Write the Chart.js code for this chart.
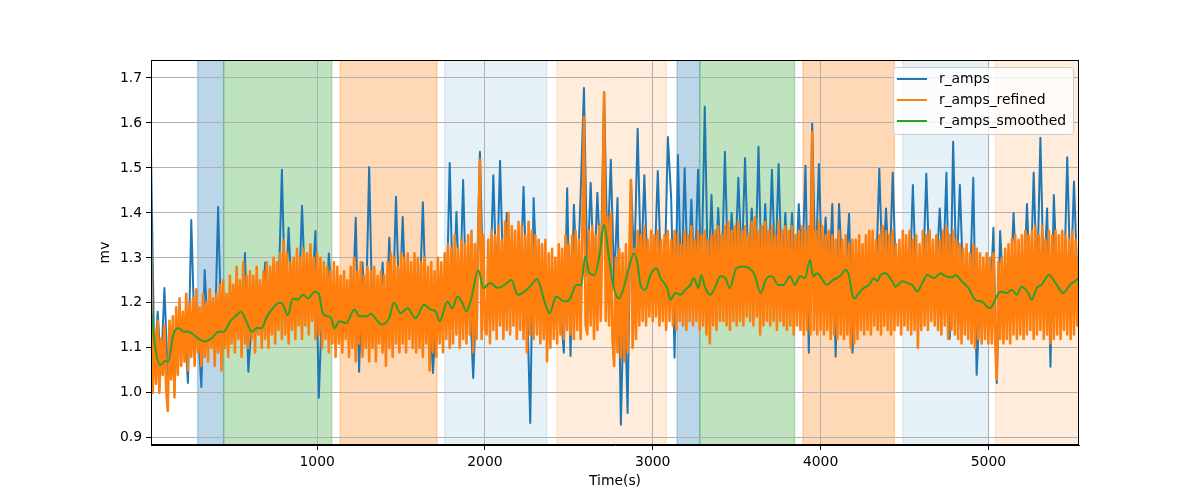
<!DOCTYPE html>
<html>
<head>
<meta charset="utf-8">
<script src="https://cdn.jsdelivr.net/npm/chart.js@4"></script>
<style>
  html, body { margin: 0; padding: 0; background: #fff; }
  #chart { display: block; }
</style>
</head>
<body>
<canvas id="chart" width="1200" height="500"></canvas>
<script>
// r_amps read every 20 s, r_amps_refined every 10 s, both from 10 s
const ampsStart = 10;
const ampsStep = 20;
const refinedStart = 10;
const refinedStep = 10;

const rAmps = [
  1.536, 1.06, 1.18, 1.05, 1.233, 1.04, 1.10, 1.08, 1.14, 1.11,
  1.15, 1.022, 1.384, 1.12, 1.15, 1.013, 1.273, 1.12, 1.15, 1.11,
  1.413, 1.12, 1.16, 1.13, 1.17, 1.15, 1.18, 1.14, 1.311, 1.047,
  1.16, 1.13, 1.17, 1.15, 1.29, 1.16, 1.20, 1.18, 1.22, 1.496,
  1.19, 1.367, 1.20, 1.22, 1.19, 1.416, 1.21, 1.19, 1.23, 1.36,
  0.989, 1.20, 1.17, 1.31, 1.18, 1.15, 1.17, 1.14, 1.17, 1.15,
  1.17, 1.389, 1.047, 1.29, 1.16, 1.502, 1.15, 1.18, 1.16, 1.29,
  1.15, 1.345, 1.17, 1.436, 1.18, 1.391, 1.17, 1.19, 1.16, 1.18,
  1.19, 1.424, 1.17, 1.20, 1.044, 1.18, 1.16, 1.19, 1.17, 1.511,
  1.19, 1.402, 1.20, 1.473, 1.18, 1.21, 1.033, 1.22, 1.536, 1.23,
  1.24, 1.22, 1.484, 1.23, 1.516, 1.24, 1.40, 1.25, 1.22, 1.24,
  1.23, 1.458, 1.22, 0.933, 1.433, 1.24, 1.22, 1.20, 1.21, 1.18,
  1.20, 1.22, 1.19, 1.089, 1.455, 1.082, 1.418, 1.23, 1.438, 1.678,
  1.26, 1.467, 1.25, 1.445, 1.27, 1.669, 1.30, 1.518, 1.24, 1.433,
  0.929, 1.25, 0.955, 1.473, 1.28, 1.587, 1.26, 1.484, 1.24, 1.26,
  1.27, 1.493, 1.25, 1.24, 1.569, 1.43, 1.078, 1.529, 1.22, 1.50,
  1.23, 1.43, 1.24, 1.496, 1.25, 1.636, 1.23, 1.44, 1.22, 1.411,
  1.24, 1.536, 1.25, 1.40, 1.27, 1.478, 1.28, 1.522, 1.27, 1.41,
  1.25, 1.547, 1.23, 1.42, 1.25, 1.496, 1.26, 1.509, 1.24, 1.40,
  1.25, 1.40, 1.24, 1.42, 1.26, 1.505, 1.089, 1.598, 1.26, 1.509,
  1.25, 1.39, 1.24, 1.42, 1.08, 1.42, 1.26, 1.27, 1.398, 1.089,
  1.22, 1.23, 1.24, 1.25, 1.24, 1.26, 1.25, 1.498, 1.26, 1.41,
  1.25, 1.49, 1.24, 1.25, 1.24, 1.23, 1.22, 1.462, 1.23, 1.25,
  1.25, 1.487, 1.26, 1.25, 1.27, 1.41, 1.26, 1.49, 1.12, 1.558,
  1.25, 1.462, 1.24, 1.22, 1.23, 1.478, 1.04, 1.21, 1.20, 1.19,
  1.19, 1.367, 1.022, 1.36, 1.22, 1.23, 1.22, 1.40, 1.23, 1.22,
  1.23, 1.42, 1.22, 1.49, 1.23, 1.567, 1.24, 1.41, 1.058, 1.44,
  1.24, 1.23, 1.22, 1.524, 1.23, 1.47, 1.25
];

const rAmpsRefined = [
  1.333, 1.00, 1.14, 1.02, 1.16, 1.00, 1.12, 1.04, 1.15, 1.01,
  0.96, 1.16, 1.03, 1.17, 0.99, 1.19, 1.04, 1.21, 1.06, 1.18,
  1.07, 1.22, 1.05, 1.20, 1.08, 1.21, 1.06, 1.23, 1.09, 1.19,
  1.06, 1.22, 1.08, 1.20, 1.07, 1.23, 1.10, 1.21, 1.06, 1.22,
  1.09, 1.24, 1.05, 1.25, 1.10, 1.22, 1.08, 1.26, 1.11, 1.24,
  1.09, 1.28, 1.12, 1.25, 1.08, 1.29, 1.11, 1.26, 1.10, 1.27,
  1.12, 1.26, 1.09, 1.28, 1.13, 1.25, 1.10, 1.27, 1.12, 1.29,
  1.10, 1.28, 1.13, 1.30, 1.11, 1.29, 1.14, 1.31, 1.12, 1.34,
  1.13, 1.31, 1.11, 1.29, 1.14, 1.30, 1.12, 1.32, 1.15, 1.30,
  1.12, 1.32, 1.15, 1.31, 1.13, 1.33, 1.16, 1.30, 1.12, 1.31,
  1.13, 1.30, 1.10, 1.29, 1.12, 1.28, 1.09, 1.27, 1.11, 1.29,
  1.08, 1.28, 1.11, 1.26, 1.09, 1.27, 1.12, 1.25, 1.08, 1.28,
  1.10, 1.30, 1.07, 1.27, 1.11, 1.29, 1.08, 1.26, 1.10, 1.28,
  1.07, 1.27, 1.10, 1.28, 1.07, 1.26, 1.11, 1.27, 1.09, 1.26,
  1.06, 1.29, 1.10, 1.31, 1.08, 1.30, 1.11, 1.28, 1.09, 1.31,
  1.11, 1.30, 1.09, 1.31, 1.12, 1.29, 1.10, 1.31, 1.09, 1.30,
  1.10, 1.29, 1.08, 1.30, 1.11, 1.28, 1.05, 1.29, 1.09, 1.27,
  1.08, 1.30, 1.11, 1.29, 1.09, 1.31, 1.12, 1.33, 1.10, 1.32,
  1.11, 1.35, 1.13, 1.32, 1.10, 1.34, 1.12, 1.33, 1.11, 1.35,
  1.13, 1.36, 1.09, 1.33, 1.12, 1.34, 1.518, 1.12, 1.35, 1.14,
  1.13, 1.34, 1.11, 1.36, 1.14, 1.35, 1.12, 1.37, 1.15, 1.34,
  1.12, 1.38, 1.14, 1.40, 1.13, 1.37, 1.15, 1.36, 1.12, 1.38,
  1.14, 1.37, 1.12, 1.35, 1.09, 1.38, 1.13, 1.36, 1.12, 1.35,
  1.13, 1.34, 1.11, 1.33, 1.12, 1.34, 1.07, 1.31, 1.10, 1.32,
  1.12, 1.30, 1.11, 1.33, 1.13, 1.32, 1.12, 1.35, 1.14, 1.33,
  1.13, 1.35, 1.12, 1.36, 1.14, 1.34, 1.12, 1.35, 1.613, 1.15,
  1.13, 1.36, 1.15, 1.37, 1.12, 1.35, 1.14, 1.37, 1.16, 1.38,
  1.669, 1.16, 1.39, 1.15, 1.40, 1.12, 1.06, 1.30, 1.09, 1.32,
  1.08, 1.31, 1.07, 1.33, 1.09, 1.30, 1.473, 1.10, 1.32, 1.12,
  1.36, 1.15, 1.35, 1.16, 1.37, 1.15, 1.34, 1.17, 1.36, 1.16,
  1.35, 1.17, 1.36, 1.15, 1.34, 1.16, 1.35, 1.14, 1.36, 1.16,
  1.34, 1.15, 1.36, 1.14, 1.35, 1.16, 1.33, 1.15, 1.36, 1.14,
  1.35, 1.16, 1.37, 1.15, 1.34, 1.16, 1.36, 1.14, 1.35, 1.15,
  1.36, 1.13, 1.34, 1.11, 1.35, 1.15, 1.36, 1.14, 1.37, 1.16,
  1.35, 1.16, 1.37, 1.15, 1.38, 1.14, 1.36, 1.16, 1.37, 1.15,
  1.38, 1.16, 1.36, 1.15, 1.37, 1.17, 1.35, 1.16, 1.38, 1.15,
  1.39, 1.17, 1.36, 1.13, 1.37, 1.15, 1.38, 1.16, 1.36, 1.15,
  1.37, 1.16, 1.35, 1.14, 1.38, 1.16, 1.36, 1.15, 1.37, 1.14,
  1.36, 1.15, 1.37, 1.13, 1.35, 1.15, 1.36, 1.14, 1.37, 1.13,
  1.36, 1.14, 1.37, 1.13, 1.58, 1.14, 1.36, 1.13, 1.38, 1.14,
  1.37, 1.13, 1.35, 1.14, 1.36, 1.12, 1.35, 1.13, 1.34, 1.12,
  1.36, 1.13, 1.34, 1.12, 1.35, 1.13, 1.33, 1.10, 1.34, 1.11,
  1.34, 1.12, 1.35, 1.14, 1.33, 1.13, 1.35, 1.14, 1.36, 1.13,
  1.36, 1.15, 1.34, 1.14, 1.35, 1.13, 1.37, 1.15, 1.36, 1.14,
  1.35, 1.13, 1.36, 1.14, 1.33, 1.15, 1.34, 1.13, 1.36, 1.15,
  1.35, 1.14, 1.36, 1.13, 1.34, 1.14, 1.35, 1.10, 1.33, 1.14,
  1.36, 1.15, 1.35, 1.14, 1.36, 1.16, 1.34, 1.15, 1.35, 1.14,
  1.34, 1.13, 1.36, 1.15, 1.37, 1.12, 1.35, 1.14, 1.36, 1.13,
  1.34, 1.12, 1.33, 1.11, 1.32, 1.13, 1.33, 1.12, 1.31, 1.11,
  1.33, 1.10, 1.32, 1.12, 1.31, 1.11, 1.30, 1.12, 1.31, 1.11,
  1.30, 1.11, 1.31, 1.12, 1.03, 1.29, 1.12, 1.30, 1.11, 1.32,
  1.12, 1.33, 1.11, 1.34, 1.13, 1.35, 1.12, 1.34, 1.13, 1.35,
  1.12, 1.36, 1.13, 1.35, 1.14, 1.36, 1.12, 1.37, 1.13, 1.35,
  1.14, 1.37, 1.12, 1.34, 1.13, 1.36, 1.11, 1.35, 1.12, 1.36,
  1.13, 1.35, 1.12, 1.36, 1.14, 1.35, 1.13, 1.34, 1.12, 1.36,
  1.13, 1.34, 1.15, 1.30
];

const smoothTimes = [
  10, 36, 65, 95, 113, 143, 173, 204, 234, 264, 294, 333, 373, 413, 443, 482, 522, 546, 578, 611, 641, 671, 696,
  736, 776, 796, 825, 855, 885, 915, 946, 985, 1010, 1034, 1064, 1084, 1103, 1133, 1173, 1222, 1252, 1292, 1321, 1361, 1387,
  1429, 1458, 1498, 1538, 1587, 1637, 1677, 1706, 1730, 1776, 1806, 1835, 1865, 1889, 1917, 1960, 1992, 2032, 2077,
  2117, 2157, 2196, 2236, 2276, 2310, 2355, 2385, 2425, 2474, 2504, 2544, 2574, 2597, 2623, 2653, 2683, 2709, 2742, 2768,
  2798, 2827, 2857, 2887, 2907, 2927, 2956, 2986, 3022, 3046, 3086, 3105, 3135, 3165, 3194, 3224, 3244, 3274, 3288, 3313, 3343, 3373, 3403, 3433, 3459,
  3498, 3538, 3577, 3607, 3643, 3679, 3709, 3748, 3778, 3818, 3848, 3877, 3907, 3937, 3956, 3980, 4006, 4036, 4075, 4115, 4149,
  4169, 4189, 4204, 4228, 4258, 4288, 4318, 4338, 4357, 4387, 4427, 4447, 4487, 4517, 4546, 4576, 4606, 4636, 4676, 4716, 4745, 4785, 4805, 4841,
  4881, 4921, 4960, 5010, 5040, 5069, 5109, 5139, 5169, 5198, 5238, 5258, 5288, 5317, 5361, 5407, 5446, 5486, 5525, 5536
];
const smoothValues = [
  1.19, 1.099, 1.062, 1.07, 1.07, 1.129, 1.144, 1.136, 1.136, 1.129, 1.12, 1.114, 1.122, 1.136, 1.136, 1.159, 1.173, 1.181, 1.159, 1.136, 1.144, 1.144, 1.166,
  1.188, 1.2, 1.196, 1.173, 1.21, 1.207, 1.218, 1.21, 1.225, 1.22, 1.177, 1.17, 1.166, 1.144, 1.159, 1.155, 1.185, 1.17, 1.17, 1.175, 1.159, 1.152,
  1.166, 1.2, 1.177, 1.188, 1.166, 1.196, 1.185, 1.181, 1.159, 1.203, 1.188, 1.214, 1.2, 1.181, 1.207, 1.273, 1.233, 1.244, 1.233,
  1.24, 1.251, 1.218, 1.225, 1.24, 1.253, 1.203, 1.177, 1.214, 1.203, 1.207, 1.24, 1.24, 1.303, 1.266, 1.262, 1.307, 1.373, 1.292, 1.233,
  1.21, 1.233, 1.277, 1.31, 1.292, 1.24, 1.229, 1.262, 1.277, 1.255, 1.233, 1.207, 1.222, 1.218, 1.229, 1.24, 1.255, 1.233, 1.262, 1.233, 1.218, 1.236, 1.259, 1.255, 1.233,
  1.277, 1.281, 1.277, 1.262, 1.222, 1.255, 1.259, 1.24, 1.24, 1.259, 1.24, 1.259, 1.255, 1.296, 1.259, 1.266, 1.255, 1.24, 1.251, 1.259, 1.273,
  1.262, 1.218, 1.21, 1.222, 1.233, 1.24, 1.255, 1.248, 1.262, 1.266, 1.248, 1.236, 1.248, 1.244, 1.24, 1.225, 1.244, 1.262, 1.255, 1.266, 1.259, 1.257, 1.262, 1.248,
  1.233, 1.207, 1.203, 1.188, 1.207, 1.225, 1.222, 1.229, 1.218, 1.236, 1.222, 1.207, 1.233, 1.24, 1.262, 1.24, 1.222, 1.24, 1.251, 1.255
];

// shaded recording phases (seconds)
const spanStart = [288, 443, 1137, 1760, 2429, 3145, 3280, 3895, 4490, 5042];
const spanEnd = [443, 1087, 1714, 2369, 3081, 3280, 3845, 4440, 5002, 5600];
const spanColor = [
  'rgba(31,119,180,0.3)', 'rgba(44,160,44,0.3)', 'rgba(255,127,14,0.3)', 'rgba(31,119,180,0.11)', 'rgba(255,127,14,0.15)',
  'rgba(31,119,180,0.3)', 'rgba(44,160,44,0.3)', 'rgba(255,127,14,0.3)', 'rgba(31,119,180,0.11)', 'rgba(255,127,14,0.15)'
];

const xTicks = [1000, 2000, 3000, 4000, 5000];
const yTicks = [0.9, 1.0, 1.1, 1.2, 1.3, 1.4, 1.5, 1.6, 1.7];

const sampled = (vals, start, step) => vals.map((v, i) => ({x: start + i * step, y: v}));

const spanPlugin = {
  id: 'spans',
  beforeDraw(chart) {
    const {ctx, chartArea, scales} = chart;
    ctx.save();
    ctx.beginPath();
    ctx.rect(chartArea.left, chartArea.top, chartArea.width, chartArea.height);
    ctx.clip();
    for (let i = 0; i < spanStart.length; i++) {
      const x0 = scales.x.getPixelForValue(spanStart[i]);
      const x1 = scales.x.getPixelForValue(spanEnd[i]);
      ctx.fillStyle = spanColor[i];
      ctx.fillRect(x0, chartArea.top, x1 - x0, chartArea.height);
      ctx.strokeStyle = spanColor[i];
      ctx.lineWidth = 1.4;
      ctx.strokeRect(x0, chartArea.top - 2, x1 - x0, chartArea.height + 4);
    }
    ctx.restore();
  }
};

const framePlugin = {
  id: 'frame',
  afterDraw(chart) {
    const {ctx, chartArea} = chart;
    ctx.save();
    ctx.strokeStyle = '#000';
    ctx.lineWidth = 1;
    ctx.strokeRect(chartArea.left + 0.5, chartArea.top + 0.5, chartArea.width - 1, chartArea.height - 1);

    // legend, upper right
    ctx.font = '13.9px "DejaVu Sans"';
    const sets = chart.data.datasets;
    let textW = 0;
    sets.forEach(d => { textW = Math.max(textW, ctx.measureText(d.label).width); });
    const w = 4 + 30 + 12 + textW + 7;
    const h = 67;
    const x0 = chartArea.right - 6 - w;
    const y0 = chartArea.top + 7;
    ctx.beginPath();
    ctx.roundRect(x0 + 0.5, y0 + 0.5, w, h, 3);
    ctx.fillStyle = 'rgba(255,255,255,0.8)';
    ctx.fill();
    ctx.strokeStyle = '#cccccc';
    ctx.stroke();
    sets.forEach((d, i) => {
      const y = y0 + 12 + i * 21;
      ctx.beginPath();
      ctx.moveTo(x0 + 4, y);
      ctx.lineTo(x0 + 34, y);
      ctx.strokeStyle = d.borderColor;
      ctx.lineWidth = 2;
      ctx.stroke();
      ctx.fillStyle = '#000';
      ctx.textBaseline = 'middle';
      ctx.fillText(d.label, x0 + 46, y);
    });
    ctx.restore();
  }
};

Chart.defaults.font.family = '"DejaVu Sans"';
Chart.defaults.font.size = 13.9;
Chart.defaults.color = '#000';

const chart = new Chart(document.getElementById('chart'), {
  type: 'line',
  data: {
    datasets: [
      {
        label: 'r_amps',
        data: sampled(rAmps, ampsStart, ampsStep),
        borderColor: '#1f77b4',
        borderWidth: 2,
        pointRadius: 0,
        borderJoinStyle: 'round',
        order: 3
      },
      {
        label: 'r_amps_refined',
        data: sampled(rAmpsRefined, refinedStart, refinedStep),
        borderColor: '#ff7f0e',
        borderWidth: 2.6,
        pointRadius: 0,
        borderJoinStyle: 'round',
        order: 2
      },
      {
        label: 'r_amps_smoothed',
        data: smoothTimes.map((t, i) => ({x: t, y: smoothValues[i]})),
        borderColor: '#2ca02c',
        borderWidth: 2,
        pointRadius: 0,
        cubicInterpolationMode: 'monotone',
        order: 1
      }
    ]
  },
  options: {
    responsive: false,
    animation: false,
    devicePixelRatio: 1,
    layout: { padding: { left: 0, right: 121, top: 60, bottom: 0 } },
    plugins: {
      legend: { display: false },
      tooltip: { enabled: false }
    },
    scales: {
      x: {
        type: 'linear',
        min: 10,
        max: 5540,
        afterFit(scale) { scale.height = 55; },
        afterBuildTicks(scale) { scale.ticks = xTicks.map(v => ({value: v})); },
        ticks: { padding: 4, maxRotation: 0, callback: v => String(v) },
        grid: { color: '#b0b0b0', lineWidth: 1, tickLength: 5, tickColor: '#000' },
        border: { color: '#000', width: 1 },
        title: { display: true, text: 'Time(s)', padding: { top: 0, bottom: 10 } }
      },
      y: {
        type: 'linear',
        min: 0.884,
        max: 1.74,
        afterFit(scale) { scale.width = 151; },
        afterBuildTicks(scale) { scale.ticks = yTicks.map(v => ({value: v})); },
        ticks: { padding: 4, callback: v => v.toFixed(1) },
        grid: { color: '#b0b0b0', lineWidth: 1, tickLength: 5, tickColor: '#000' },
        border: { color: '#000', width: 1 },
        title: { display: true, text: 'mv', padding: { top: 97, bottom: 0 } }
      }
    }
  },
  plugins: [spanPlugin, framePlugin]
});
</script>
</body>
</html>
